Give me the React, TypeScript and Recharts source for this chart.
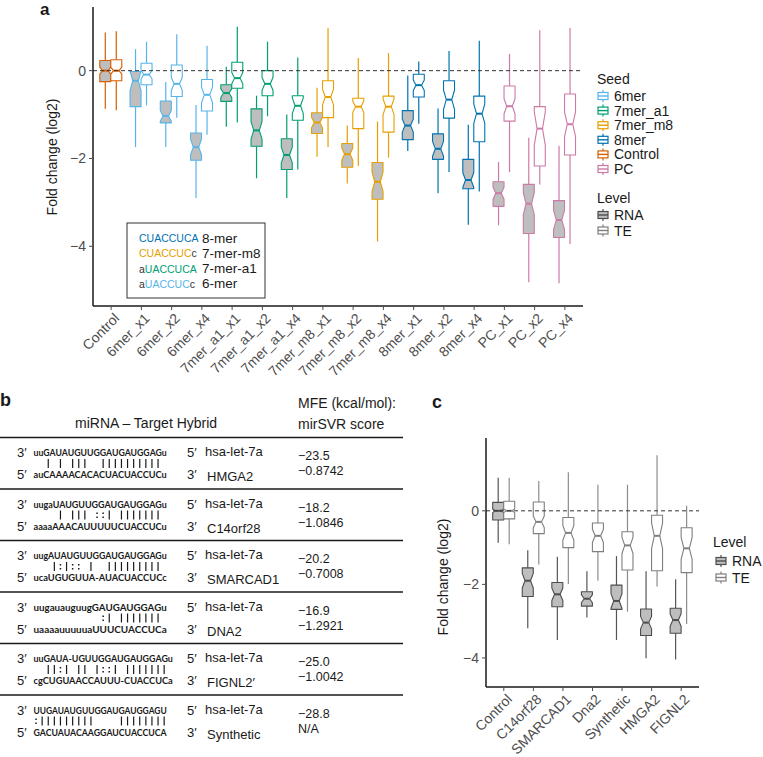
import React from "react";
import { BarChart, Bar, XAxis, YAxis, ReferenceLine } from "recharts";

const FONT = "'Liberation Sans', Arial, Helvetica, sans-serif";
const SEQ_FONT = "Lato, 'Open Sans', sans-serif";

// seed palette (legend order)
const seedNames = ["6mer", "7mer_a1", "7mer_m8", "8mer", "Control", "PC"];
const seedColors = ["#56B4E9", "#009E73", "#E69F00", "#0072B2", "#D55E00", "#CC79A7"];
const levelNames = ["RNA", "TE"];
const levelFill = ["#BEBEBE", "#FFFFFF"];
const levelEdge = ["#4D4D4D", "#7F7F7F"];
const levelWhisker = ["#555555", "#8C8C8C"];

// panel a
const categoriesA = [
  "Control", "6mer_x1", "6mer_x2", "6mer_x4", "7mer_a1_x1", "7mer_a1_x2", "7mer_a1_x4",
  "7mer_m8_x1", "7mer_m8_x2", "7mer_m8_x4", "8mer_x1", "8mer_x2", "8mer_x4", "PC_x1", "PC_x2", "PC_x4",
];
const seedOfA = [
  "Control", "6mer", "6mer", "6mer", "7mer_a1", "7mer_a1", "7mer_a1",
  "7mer_m8", "7mer_m8", "7mer_m8", "8mer", "8mer", "8mer", "PC", "PC", "PC",
];
// [lower whisker, q1, median, q3, upper whisker, notch half-height]
const rnaA = [
  [-0.87, -0.25, 0, 0.23, 0.87, 0.08],
  [-1.74, -0.82, -0.23, -0.02, 0.49, 0.22],
  [-1.74, -1.19, -1.03, -0.69, -0.26, 0.12],
  [-2.9, -2.04, -1.74, -1.42, -0.78, 0.18],
  [-1.28, -0.7, -0.51, -0.32, 0.09, 0.1],
  [-2.45, -1.72, -1.36, -0.87, -0.57, 0.2],
  [-2.9, -2.25, -1.92, -1.55, -1.0, 0.18],
  [-1.96, -1.43, -1.18, -0.96, -0.39, 0.12],
  [-2.57, -2.2, -1.9, -1.66, -1.25, 0.14],
  [-3.89, -2.93, -2.53, -2.09, -1.16, 0.22],
  [-1.83, -1.57, -1.25, -0.91, -0.11, 0.15],
  [-2.79, -2.02, -1.78, -1.44, -0.86, 0.17],
  [-3.51, -2.69, -2.49, -2.02, -1.23, 0.17],
  [-3.52, -3.09, -2.79, -2.53, -2.08, 0.14],
  [-4.82, -3.71, -3.03, -2.59, -1.53, 0.25],
  [-4.84, -3.8, -3.4, -2.96, -1.71, 0.22],
];
const teA = [
  [-0.9, -0.23, 0, 0.25, 0.9, 0.08],
  [-0.79, -0.32, -0.09, 0.17, 0.66, 0.1],
  [-1.07, -0.59, -0.3, 0.13, 0.83, 0.15],
  [-1.46, -0.92, -0.55, -0.2, 0.57, 0.18],
  [-1.18, -0.4, -0.17, 0.19, 1.0, 0.13],
  [-1.04, -0.57, -0.3, 0.0, 0.66, 0.15],
  [-2.25, -1.13, -0.8, -0.57, 0.3, 0.18],
  [-1.74, -1.07, -0.6, -0.23, 0.97, 0.18],
  [-2.17, -1.32, -0.82, -0.63, 0.29, 0.13],
  [-1.98, -1.4, -0.82, -0.58, 0.4, 0.18],
  [-1.21, -0.6, -0.33, -0.08, 0.21, 0.12],
  [-2.31, -1.08, -0.66, -0.23, 0.45, 0.22],
  [-2.75, -1.62, -0.98, -0.58, 0.68, 0.22],
  [-2.31, -1.15, -0.81, -0.35, 0.38, 0.17],
  [-2.59, -2.17, -1.32, -0.82, 0.92, 0.38],
  [-3.95, -1.92, -1.22, -0.53, 0.97, 0.28],
];
const ticksA = [-4, -2, 0];

// panel c
const categoriesC = ["Control", "C14orf28", "SMARCAD1", "Dna2", "Synthetic", "HMGA2", "FIGNL2"];
const rnaC = [
  [-0.87, -0.25, 0, 0.23, 0.9, 0.05],
  [-3.19, -2.33, -1.9, -1.55, -1.07, 0.2],
  [-3.51, -2.61, -2.27, -1.95, -1.25, 0.17],
  [-2.9, -2.59, -2.39, -2.2, -1.64, 0.11],
  [-3.51, -2.68, -2.45, -2.02, -1.23, 0.2],
  [-4.01, -3.39, -3.04, -2.67, -1.64, 0.17],
  [-4.04, -3.33, -2.97, -2.65, -1.86, 0.17],
];
const teC = [
  [-0.91, -0.22, 0, 0.26, 0.9, 0.05],
  [-1.46, -0.62, -0.3, 0.24, 0.81, 0.16],
  [-1.99, -1.0, -0.6, -0.18, 1.05, 0.2],
  [-1.9, -1.11, -0.68, -0.33, 0.71, 0.18],
  [-2.74, -1.61, -0.94, -0.57, 0.71, 0.22],
  [-2.06, -1.63, -0.68, -0.12, 1.51, 0.35],
  [-3.08, -1.68, -1.02, -0.46, 0.14, 0.3],
];
const ticksC = [-4, -2, 0];

// inset legend of panel a: [text, seed or null for dark]
const insetSeqs = [
  [["CUACCUCA", "8mer"]],
  [["CUACCUC", "7mer_m8"], ["c", null]],
  [["a", null], ["UACCUCA", "7mer_a1"]],
  [["a", null], ["UACCUC", "6mer"], ["c", null]],
];
const insetLabels = ["8-mer", "7-mer-m8", "7-mer-a1", "6-mer"];

// panel b table
const mirnaStrands = [
  "uuGAUAUGUUGGAUGAUGGAGu",
  "uugaUAUGUUGGAUGAUGGAGu",
  "uugAUAUGUUGGAUGAUGGAGu",
  "uugauauguugGAUGAUGGAGu",
  "uuGAUA-UGUUGGAUGAUGGAGu",
  "UUGAUAUGUUGGAUGAUGGAGU",
];
const pairStrings = [
  "  | | |||  |||||||||| ",
  "    | ||| ::| ||||||| ",
  "   |:|:: |  ||||||||| ",
  "           :| ||||||| ",
  "  ||:| || |::| ||||||| ",
  ":|||||||||    ||||||||",
];
const targetStrands = [
  "auCAAAACACACUACUACCUCu",
  "aaaaAAACAUUUUUCUACCUCu",
  "ucaUGUGUUA-AUACUACCUCc",
  "uaaaauuuuuaUUUCUACCUCa",
  "cgCUGUAACCAUUU-CUACCUCa",
  "GACUAUACAAGGAUCUACCUCA",
];
const targetGenes = ["HMGA2", "C14orf28", "SMARCAD1", "DNA2", "FIGNL2\u2032", "Synthetic"];
const mfeValues = ["\u221223.5", "\u221218.2", "\u221220.2", "\u221216.9", "\u221225.0", "\u221228.8"];
const svrScores = ["\u22120.8742", "\u22121.0846", "\u22120.7008", "\u22121.2921", "\u22121.0042", "N/A"];

const seedColor = (s: string | null) => (s ? seedColors[seedNames.indexOf(s)] : "#333333");
const minus = (v: number) => (v < 0 ? "\u2212" + Math.abs(v) : String(v));

const rowsA = categoriesA.map((name, i) => ({
  name,
  color: seedColor(seedOfA[i]),
  RNA: rnaA[i],
  TE: teA[i],
  rnaRange: [rnaA[i][0], rnaA[i][4]],
  teRange: [teA[i][0], teA[i][4]],
}));
const rowsC = categoriesC.map((name, i) => ({
  name,
  RNA: rnaC[i],
  TE: teC[i],
  rnaRange: [rnaC[i][0], rnaC[i][4]],
  teRange: [teC[i][0], teC[i][4]],
}));

// notched box drawn inside the pixel span that the bar got for [lower whisker, upper whisker]
const BoxShape = (props: any) => {
  const { x, y, width, height, payload, level, fill, edge, whisker } = props;
  if (!payload || !isFinite(y) || !isFinite(height)) return null;
  const [lo, q1, med, q3, hi, notch] = payload[level] as number[];
  const top = Math.min(y, y + height);
  const bot = Math.max(y, y + height);
  const py = (v: number) => bot - ((v - lo) / (hi - lo)) * (bot - top);
  const l = x;
  const r = x + width;
  const cx = x + width / 2;
  const ind = width * 0.25;
  const stroke = edge ?? payload.color;
  const wc = whisker ?? payload.color;
  const pts = [
    [l, py(q3)], [r, py(q3)], [r, py(med + notch)], [r - ind, py(med)], [r, py(med - notch)],
    [r, py(q1)], [l, py(q1)], [l, py(med - notch)], [l + ind, py(med)], [l, py(med + notch)],
  ].map((p) => p.join(",")).join(" ");
  return (
    <g>
      <line x1={cx} x2={cx} y1={py(hi)} y2={py(q3)} stroke={wc} strokeWidth={1.2} />
      <line x1={cx} x2={cx} y1={py(q1)} y2={py(lo)} stroke={wc} strokeWidth={1.2} />
      <polygon points={pts} fill={fill} stroke={stroke} strokeWidth={1.1} strokeLinejoin="round" />
      <line x1={l + ind} x2={r - ind} y1={py(med)} y2={py(med)} stroke={stroke} strokeWidth={2} />
    </g>
  );
};

const SlantTick = (props: any) => {
  const { x, y, payload } = props;
  return (
    <text
      x={x + 2}
      y={y}
      dy="0.72em"
      transform={`rotate(-45 ${x + 2} ${y})`}
      textAnchor="end"
      fontSize={14}
      fontFamily={FONT}
      fill="#4D4D4D"
    >
      {payload.value}
    </text>
  );
};

const KeyGlyph = ({ x, y, stroke, fill }: { x: number; y: number; stroke: string; fill: string }) => (
  <g>
    <line x1={x + 5} x2={x + 5} y1={y - 6} y2={y + 6} stroke={stroke} strokeWidth={1.2} />
    <rect x={x} y={y - 3.5} width={10} height={7} fill={fill} stroke={stroke} strokeWidth={1.2} />
    <line x1={x} x2={x + 10} y1={y} y2={y} stroke={stroke} strokeWidth={1.4} />
  </g>
);

const axisLine = { stroke: "#1A1A1A", strokeWidth: 1.5 };
const tickLine = { stroke: "#4D4D4D" };
const yTick = { fill: "#4D4D4D", fontSize: 14, fontFamily: FONT };

const COL = 6.1;
const SEQ_X = 33;
const TABLE_TOP = 437.5;
const ROW_H = 51.5;

// one strand, stretched so every nucleotide sits on its column
function Strand({ seq, y }: { seq: string; y: number }) {
  return (
    <text
      x={SEQ_X + 0.5}
      y={y}
      dominantBaseline="central"
      fontSize={9.5}
      fontWeight={700}
      fontFamily={SEQ_FONT}
      fill="#1A1A1A"
      textLength={seq.length * COL - 1}
      lengthAdjust="spacingAndGlyphs"
    >
      {seq}
    </text>
  );
}

// base-pair marks: "|" Watson-Crick, ":" wobble
function Pairs({ marks, y }: { marks: string; y: number }) {
  return (
    <g>
      {marks.split("").map((ch, i) => {
        const cx = SEQ_X + COL * (i + 0.5);
        if (ch === "|")
          return <line key={i} x1={cx} x2={cx} y1={y - 4.5} y2={y + 4.5} stroke="#1A1A1A" strokeWidth={1.2} />;
        if (ch === ":")
          return (
            <g key={i} fill="#1A1A1A">
              <rect x={cx - 0.75} y={y - 2.5} width={1.5} height={1.5} />
              <rect x={cx - 0.75} y={y + 1.5} width={1.5} height={1.5} />
            </g>
          );
        return null;
      })}
    </g>
  );
}

function PanelB() {
  const txt = { fontFamily: FONT, fill: "#1A1A1A", dominantBaseline: "central" as const };
  return (
    <g>
      <text x={0} y={400} fontSize={18} fontWeight={700} {...txt}>b</text>
      <text x={75} y={423} fontSize={14} {...txt}>miRNA – Target Hybrid</text>
      <text x={298} y={403} fontSize={14} {...txt}>MFE (kcal/mol):</text>
      <text x={298} y={424} fontSize={14} {...txt}>mirSVR score</text>
      {targetGenes.map((gene, r) => {
        const t = TABLE_TOP + r * ROW_H;
        return (
          <g key={gene}>
            <line x1={0} x2={403} y1={t} y2={t} stroke="#1A1A1A" strokeWidth={1.5} />
            <text x={17} y={t + 15} fontSize={13} {...txt}>3′</text>
            <Strand seq={mirnaStrands[r]} y={t + 15} />
            <text x={187} y={t + 15} fontSize={13} {...txt}>5′</text>
            <text x={205} y={t + 14} fontSize={13} {...txt}>hsa-let-7a</text>
            <Pairs marks={pairStrings[r]} y={t + 26} />
            <text x={17} y={t + 37} fontSize={13} {...txt}>5′</text>
            <Strand seq={targetStrands[r]} y={t + 37} />
            <text x={187} y={t + 37} fontSize={13} {...txt}>3′</text>
            <text x={207} y={t + 39} fontSize={13} {...txt}>{gene}</text>
            <text x={298} y={t + 18.5} fontSize={12.5} {...txt}>{mfeValues[r]}</text>
            <text x={298} y={t + 33.5} fontSize={12.5} {...txt}>{svrScores[r]}</text>
          </g>
        );
      })}
    </g>
  );
}

export default function App() {
  const txt = { fontFamily: FONT, fill: "#1A1A1A", dominantBaseline: "central" as const };
  return (
    <div style={{ position: "absolute", left: 0, top: 0, width: 763, height: 757, background: "#fff" }}>
      <div style={{ position: "absolute", left: 0, top: 0 }}>
        <BarChart
          width={763}
          height={400}
          data={rowsA}
          margin={{ top: 7, right: 180, bottom: 0, left: 0 }}
          barCategoryGap="12.5%"
          barGap={0}
        >
          <XAxis
            dataKey="name"
            interval={0}
            height={94}
            padding={{ left: 3, right: 3 }}
            axisLine={axisLine}
            tickLine={tickLine}
            tickSize={4}
            tickMargin={2}
            tick={(p: any) => <SlantTick {...p} />}
          />
          <YAxis
            type="number"
            domain={[-5.36, 1.45]}
            ticks={ticksA}
            allowDataOverflow
            width={93}
            axisLine={axisLine}
            tickLine={tickLine}
            tickSize={4}
            tickMargin={3}
            tick={yTick}
            tickFormatter={minus}
          />
          <ReferenceLine y={0} stroke="#333" strokeDasharray="4 3" strokeWidth={1} />
          <Bar
            dataKey="rnaRange"
            isAnimationActive={false}
            shape={(p: any) => <BoxShape {...p} level="RNA" fill={levelFill[0]} />}
          />
          <Bar
            dataKey="teRange"
            isAnimationActive={false}
            shape={(p: any) => <BoxShape {...p} level="TE" fill={levelFill[1]} />}
          />
        </BarChart>
      </div>

      <div style={{ position: "absolute", left: 400, top: 400 }}>
        <BarChart
          width={363}
          height={357}
          data={rowsC}
          margin={{ top: 38, right: 64, bottom: 0, left: 0 }}
          barCategoryGap="12.5%"
          barGap={0}
        >
          <XAxis
            dataKey="name"
            interval={0}
            height={70}
            padding={{ left: 3, right: 3 }}
            axisLine={axisLine}
            tickLine={tickLine}
            tickSize={4}
            tickMargin={2}
            tick={(p: any) => <SlantTick {...p} />}
          />
          <YAxis
            type="number"
            domain={[-4.79, 1.98]}
            ticks={ticksC}
            allowDataOverflow
            width={86}
            axisLine={axisLine}
            tickLine={tickLine}
            tickSize={4}
            tickMargin={3}
            tick={yTick}
            tickFormatter={minus}
          />
          <ReferenceLine y={0} stroke="#333" strokeDasharray="4 3" strokeWidth={1} />
          <Bar
            dataKey="rnaRange"
            isAnimationActive={false}
            shape={(p: any) => (
              <BoxShape {...p} level="RNA" fill={levelFill[0]} edge={levelEdge[0]} whisker={levelWhisker[0]} />
            )}
          />
          <Bar
            dataKey="teRange"
            isAnimationActive={false}
            shape={(p: any) => (
              <BoxShape {...p} level="TE" fill={levelFill[1]} edge={levelEdge[1]} whisker={levelWhisker[1]} />
            )}
          />
        </BarChart>
      </div>

      <svg
        width={763}
        height={757}
        style={{ position: "absolute", left: 0, top: 0, pointerEvents: "none" }}
      >
        {/* panel a labels */}
        <text x={40} y={9} fontSize={17} fontWeight={700} {...txt}>a</text>
        <text
          x={52}
          y={157}
          fontSize={14}
          textAnchor="middle"
          transform="rotate(-90 52 157)"
          {...txt}
        >
          Fold change (log2)
        </text>

        {/* inset seed legend */}
        <rect x={127} y={223} width={138} height={75} fill="#fff" stroke="#333" strokeWidth={1} />
        {insetSeqs.map((parts, i) => (
          <g key={i}>
            <text x={139} y={238 + i * 15.3} fontSize={10.5} {...txt}>
              {parts.map(([t, s], j) => (
                <tspan key={j} fill={seedColor(s as string | null)}>{t}</tspan>
              ))}
            </text>
            <text x={202} y={238 + i * 15.3} fontSize={13.5} {...txt}>{insetLabels[i]}</text>
          </g>
        ))}

        {/* seed legend */}
        <text x={597} y={79} fontSize={14} {...txt}>Seed</text>
        {seedNames.map((s, i) => (
          <g key={s}>
            <KeyGlyph x={598} y={96 + i * 14.6} stroke={seedColors[i]} fill="#fff" />
            <text x={614} y={96 + i * 14.6} fontSize={14} {...txt}>{s}</text>
          </g>
        ))}
        <text x={597} y={198} fontSize={14} {...txt}>Level</text>
        {levelNames.map((s, i) => (
          <g key={s}>
            <KeyGlyph x={598} y={215 + i * 15.5} stroke={levelEdge[i]} fill={levelFill[i]} />
            <text x={614} y={215 + i * 15.5} fontSize={14} {...txt}>{s}</text>
          </g>
        ))}

        <PanelB />

        {/* panel c labels */}
        <text x={432} y={402} fontSize={18} fontWeight={700} {...txt}>c</text>
        <text
          x={443}
          y={577}
          fontSize={14}
          textAnchor="middle"
          transform="rotate(-90 443 577)"
          {...txt}
        >
          Fold change (log2)
        </text>
        <text x={713} y={542} fontSize={14} {...txt}>Level</text>
        {levelNames.map((s, i) => (
          <g key={s}>
            <KeyGlyph x={716} y={561 + i * 16.5} stroke={levelEdge[i]} fill={levelFill[i]} />
            <text x={732} y={561 + i * 16.5} fontSize={14} {...txt}>{s}</text>
          </g>
        ))}
      </svg>
    </div>
  );
}
